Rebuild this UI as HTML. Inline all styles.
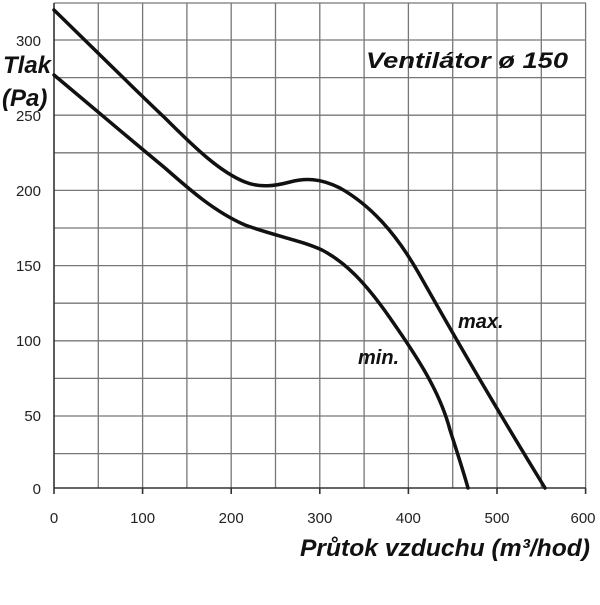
<!DOCTYPE html>
<html><head><style>body{margin:0;background:#fff}</style></head><body>
<svg width="600" height="600" xmlns="http://www.w3.org/2000/svg" font-family="Liberation Sans, sans-serif">
<g stroke="#777" stroke-width="1.3" fill="none">
<line x1="98.3" y1="3" x2="98.3" y2="488"/><line x1="142.6" y1="3" x2="142.6" y2="488"/><line x1="186.9" y1="3" x2="186.9" y2="488"/><line x1="231.2" y1="3" x2="231.2" y2="488"/><line x1="275.5" y1="3" x2="275.5" y2="488"/><line x1="319.8" y1="3" x2="319.8" y2="488"/><line x1="364.1" y1="3" x2="364.1" y2="488"/><line x1="408.4" y1="3" x2="408.4" y2="488"/><line x1="452.7" y1="3" x2="452.7" y2="488"/><line x1="497" y1="3" x2="497" y2="488"/><line x1="541.3" y1="3" x2="541.3" y2="488"/><line x1="585.6" y1="3" x2="585.6" y2="488"/>
<line x1="54" y1="3" x2="586" y2="3"/>
<line x1="54" y1="40" x2="586" y2="40"/><line x1="54" y1="77.6" x2="586" y2="77.6"/><line x1="54" y1="115.2" x2="586" y2="115.2"/><line x1="54" y1="152.8" x2="586" y2="152.8"/><line x1="54" y1="190.4" x2="586" y2="190.4"/><line x1="54" y1="228" x2="586" y2="228"/><line x1="54" y1="265.6" x2="586" y2="265.6"/><line x1="54" y1="303.2" x2="586" y2="303.2"/><line x1="54" y1="340.8" x2="586" y2="340.8"/><line x1="54" y1="378.4" x2="586" y2="378.4"/><line x1="54" y1="416" x2="586" y2="416"/><line x1="54" y1="453.6" x2="586" y2="453.6"/>
</g>
<g stroke="#333" stroke-width="1.6"><line x1="54" y1="3" x2="54" y2="488"/><line x1="54" y1="488" x2="586" y2="488"/>
<line x1="54" y1="488" x2="54" y2="494"/><line x1="142.6" y1="488" x2="142.6" y2="494"/><line x1="231.2" y1="488" x2="231.2" y2="494"/><line x1="319.8" y1="488" x2="319.8" y2="494"/><line x1="408.4" y1="488" x2="408.4" y2="494"/><line x1="497" y1="488" x2="497" y2="494"/><line x1="585.6" y1="488" x2="585.6" y2="494"/></g>
<g fill="none" stroke="#111" stroke-width="3.5" stroke-linejoin="round" stroke-linecap="round">
<path d="M54,10 C90,45 125,80 165,118 C195,148 220,172 245,182 C260,188 275,186 290,182 C305,178 320,178 340,188 C370,205 395,232 418,272 C448,325 485,390 545,488"/>
<path d="M54,75 C90,105 125,135 165,168 C190,190 215,212 245,225 C275,236 300,240 322,250 C345,262 365,282 390,318 C418,358 440,392 450,430 C458,455 463,470 468,488"/>
</g>
<g font-size="15" fill="#222" text-anchor="end">
<text x="41" y="46">300</text><text x="41" y="121">250</text><text x="41" y="196">200</text><text x="41" y="271">150</text><text x="41" y="346">100</text><text x="41" y="421">50</text><text x="41" y="494">0</text></g>
<g font-size="15" fill="#222" text-anchor="middle">
<text x="54" y="523">0</text><text x="142.6" y="523">100</text><text x="231.2" y="523">200</text><text x="319.8" y="523">300</text><text x="408.4" y="523">400</text><text x="497" y="523">500</text><text x="583" y="523">600</text></g>
<g font-weight="bold" font-style="italic" fill="#111">
<text x="3" y="73" font-size="24">Tlak</text>
<text x="2" y="106" font-size="24">(Pa)</text>
<text x="366" y="68" font-size="22" textLength="202" lengthAdjust="spacingAndGlyphs">Ventilátor ø 150</text>
<text x="458" y="328" font-size="20">max.</text>
<text x="358" y="364" font-size="20">min.</text>
<text x="300" y="556" font-size="24" textLength="290" lengthAdjust="spacingAndGlyphs">Průtok vzduchu (m³/hod)</text>
</g>
</svg>
</body></html>
